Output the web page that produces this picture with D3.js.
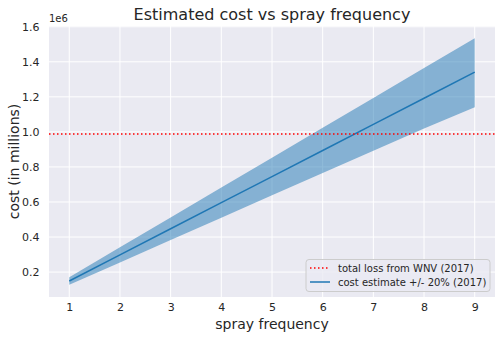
<!DOCTYPE html>
<html><head><meta charset="utf-8">
<script src="https://cdn.jsdelivr.net/npm/d3@7"></script>
<style>body{margin:0;background:#fff}svg{display:block}text{font-family:"DejaVu Sans",sans-serif;fill:#262626}</style>
</head><body><svg id="c" width="501" height="339"></svg>
<script>
const freq = [1,2,3,4,5,6,7,8,9];
const cost = [149000,298000,447000,596000,745000,894000,1043000,1192000,1341000];
const costLow = [128000,255000,383000,510000,638000,765000,893000,1020000,1140000];
const costHigh = [170000,341000,511000,682000,852000,1023000,1193000,1364000,1534000];
const totalLoss = 988000;
const xTicks = [1,2,3,4,5,6,7,8,9];
const yTicks = [200000,400000,600000,800000,1000000,1200000,1400000,1600000];
const legendLabels = ["total loss from WNV (2017)","cost estimate +/- 20% (2017)"];

const svg = d3.select("#c");
const L=49, T=26, R=495, B=297;
const x = d3.scaleLinear().domain([0.6,9.4]).range([L,R]);
const y = d3.scaleLinear().domain([d3.min(costLow)-0.05*(d3.max(costHigh)-d3.min(costLow)), d3.max(costHigh)+0.05*(d3.max(costHigh)-d3.min(costLow))]).range([B,T]);
svg.append("rect").attr("x",L).attr("y",T).attr("width",R-L).attr("height",B-T).attr("fill","#EAEAF2");
const g = svg.append("g");
g.selectAll(".vx").data(xTicks).join("line").attr("x1",d=>x(d)).attr("x2",d=>x(d)).attr("y1",T).attr("y2",B).attr("stroke","#fff").attr("stroke-width",1);
g.selectAll(".hy").data(yTicks).join("line").attr("y1",d=>y(d)).attr("y2",d=>y(d)).attr("x1",L).attr("x2",R).attr("stroke","#fff").attr("stroke-width",1);
const xa = svg.append("g").attr("transform",`translate(0,${B})`).call(d3.axisBottom(x).tickValues(xTicks).tickSize(0).tickPadding(6.5).tickFormat(d3.format("d")));
const ya = svg.append("g").attr("transform",`translate(${L},0)`).call(d3.axisLeft(y).tickValues(yTicks).tickSize(0).tickPadding(9.5).tickFormat(d=>(d/1e6).toFixed(1)));
[xa,ya].forEach(a=>{a.select(".domain").remove();a.selectAll("text").attr("font-size",11).attr("fill","#262626").attr("font-family","DejaVu Sans");});
const idx = d3.range(freq.length);
svg.append("path").datum(idx).attr("fill","#1f77b4").attr("fill-opacity",0.5)
  .attr("d",d3.area().x(i=>x(freq[i])).y0(i=>y(costLow[i])).y1(i=>y(costHigh[i])));
svg.append("path").datum(idx).attr("fill","none").attr("stroke","#1f77b4").attr("stroke-width",1.5)
  .attr("d",d3.line().x(i=>x(freq[i])).y(i=>y(cost[i])));
svg.append("line").attr("x1",L).attr("x2",R).attr("y1",y(totalLoss)).attr("y2",y(totalLoss)).attr("stroke","red").attr("stroke-width",1.5).attr("stroke-dasharray","1.5,2.5");
svg.append("text").attr("x",(L+R)/2).attr("y",20).attr("text-anchor","middle").attr("font-size",16).text("Estimated cost vs spray frequency");
svg.append("text").attr("x",(L+R)/2).attr("y",329).attr("text-anchor","middle").attr("font-size",14).text("spray frequency");
svg.append("text").attr("transform",`translate(18.5,${(T+B)/2}) rotate(-90)`).attr("text-anchor","middle").attr("font-size",14).text("cost (in millions)");
svg.append("text").attr("x",L).attr("y",22).attr("font-size",10).text("1e6");
const lg = svg.append("g");
lg.append("rect").attr("x",306).attr("y",259.5).attr("width",184).attr("height",32).attr("rx",3).attr("fill","#EAEAF2").attr("fill-opacity",0.8).attr("stroke","#cccccc");
lg.append("line").attr("x1",310).attr("x2",330).attr("y1",268).attr("y2",268).attr("stroke","red").attr("stroke-width",1.5).attr("stroke-dasharray","1.5,2.5");
lg.append("line").attr("x1",310).attr("x2",330).attr("y1",282).attr("y2",282).attr("stroke","#1f77b4").attr("stroke-width",1.5);
lg.selectAll(".lt").data(legendLabels).join("text").attr("x",338).attr("y",(d,i)=>271.5+i*14).attr("font-size",10).text(d=>d);
</script></body></html>
